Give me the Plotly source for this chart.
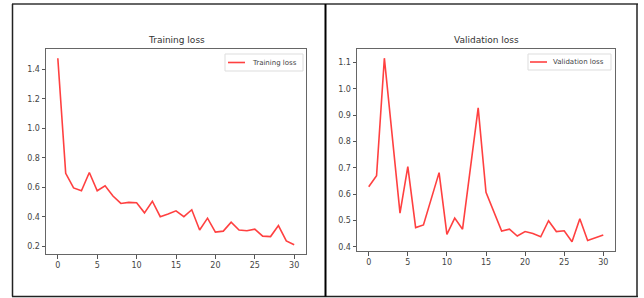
import plotly.graph_objects as go

epochs = list(range(31))
training_loss = [1.475, 0.694, 0.595, 0.576, 0.700, 0.576, 0.610, 0.540, 0.490, 0.497,
                 0.495, 0.426, 0.505, 0.400, 0.418, 0.440, 0.400, 0.447, 0.310, 0.390,
                 0.295, 0.302, 0.363, 0.310, 0.305, 0.315, 0.268, 0.265, 0.340, 0.236, 0.210]
validation_loss = [0.628, 0.670, 1.117, 0.820, 0.528, 0.705, 0.473, 0.483, 0.580, 0.682,
                   0.447, 0.509, 0.467, 0.690, 0.928, 0.607, 0.535, 0.460, 0.467, 0.441,
                   0.458, 0.451, 0.438, 0.499, 0.458, 0.461, 0.419, 0.507, 0.424, 0.433, 0.445]
x_ticks = [0, 5, 10, 15, 20, 25, 30]
train_yticks = [0.2, 0.4, 0.6, 0.8, 1.0, 1.2, 1.4]
val_yticks = [0.4, 0.5, 0.6, 0.7, 0.8, 0.9, 1.0, 1.1]

W, H = 644, 298
def px(x): return x / W
def py(y): return 1 - y / H

LINE = "rgba(255,30,30,0.85)"
FONT = dict(family="DejaVu Sans", size=8, color="#444")

fig = go.Figure()
fig.add_trace(go.Scatter(x=epochs, y=training_loss, mode="lines", name="Training loss",
                         line=dict(color=LINE, width=1.6), xaxis="x", yaxis="y", showlegend=False))
fig.add_trace(go.Scatter(x=epochs, y=validation_loss, mode="lines", name="Validation loss",
                         line=dict(color=LINE, width=1.6), xaxis="x2", yaxis="y2", showlegend=False))

def tmin(v):
    r = max(v) - min(v)
    return [min(v) - 0.05 * r, max(v) + 0.05 * r]

axis_common = dict(showline=True, mirror=True, linecolor="#666", linewidth=1, showgrid=False,
                   zeroline=False, ticks="outside", ticklen=3.5, tickcolor="#555", tickwidth=1,
                   tickfont=FONT)

def legend_parts(x0, x1, y0, y1, lx0, lx1, tx, label):
    ym = (y0 + y1) / 2
    shapes = [
        dict(type="rect", xref="paper", yref="paper", x0=px(x0), x1=px(x1), y0=py(y1), y1=py(y0),
             line=dict(color="#ddd", width=1), fillcolor="white", layer="above"),
        dict(type="line", xref="paper", yref="paper", x0=px(lx0), x1=px(lx1), y0=py(ym), y1=py(ym),
             line=dict(color=LINE, width=1.6), layer="above"),
    ]
    ann = dict(text=label, x=px(tx), y=py(ym), xref="paper", yref="paper", showarrow=False,
               xanchor="left", yanchor="middle",
               font=dict(family="DejaVu Sans", size=7, color="#444"))
    return shapes, ann

s1, a1 = legend_parts(225, 303, 54, 71, 228, 245, 250, "Training loss")
s2, a2 = legend_parts(528, 611, 54, 70, 530, 547, 551, "Validation loss")

borders = [
    dict(type="line", xref="paper", yref="paper", x0=px(12), x1=px(638), y0=py(4), y1=py(4),
         line=dict(color="#666", width=2)),
    dict(type="line", xref="paper", yref="paper", x0=px(12.5), x1=px(12.5), y0=py(4), y1=py(296.5),
         line=dict(color="#222", width=1.5)),
    dict(type="line", xref="paper", yref="paper", x0=px(637), x1=px(637), y0=py(4), y1=py(296.5),
         line=dict(color="#222", width=1.5)),
    dict(type="line", xref="paper", yref="paper", x0=px(12), x1=px(638), y0=py(296.5), y1=py(296.5),
         line=dict(color="#222", width=1.5)),
    dict(type="line", xref="paper", yref="paper", x0=px(325.5), x1=px(325.5), y0=py(4), y1=py(296.5),
         line=dict(color="#000", width=2)),
]

fig.update_layout(
    width=W, height=H, margin=dict(l=0, r=0, t=0, b=0),
    paper_bgcolor="white", plot_bgcolor="white",
    xaxis=dict(domain=[px(46), px(306)], range=[-1.5, 31.5], tickvals=x_ticks, anchor="y", **axis_common),
    yaxis=dict(domain=[py(254), py(49)], range=tmin(training_loss), tickvals=train_yticks,
               tickformat=".1f", anchor="x", **axis_common),
    xaxis2=dict(domain=[px(357), px(615)], range=[-1.5, 31.5], tickvals=x_ticks, anchor="y2", **axis_common),
    yaxis2=dict(domain=[py(251), py(49)], range=tmin(validation_loss), tickvals=val_yticks,
                tickformat=".1f", anchor="x2", **axis_common),
    showlegend=False,
    annotations=[
        dict(text="Training loss", x=px(176), y=py(40), xref="paper", yref="paper", showarrow=False,
             xanchor="center", yanchor="middle",
             font=dict(family="DejaVu Sans", size=9, color="#333")),
        dict(text="Validation loss", x=px(486), y=py(40), xref="paper", yref="paper", showarrow=False,
             xanchor="center", yanchor="middle",
             font=dict(family="DejaVu Sans", size=9, color="#333")),
        a1, a2,
    ],
    shapes=borders + s1 + s2,
)

fig.write_html("out.html", config={"displayModeBar": False},
               post_script="document.body.style.margin='0px';")
